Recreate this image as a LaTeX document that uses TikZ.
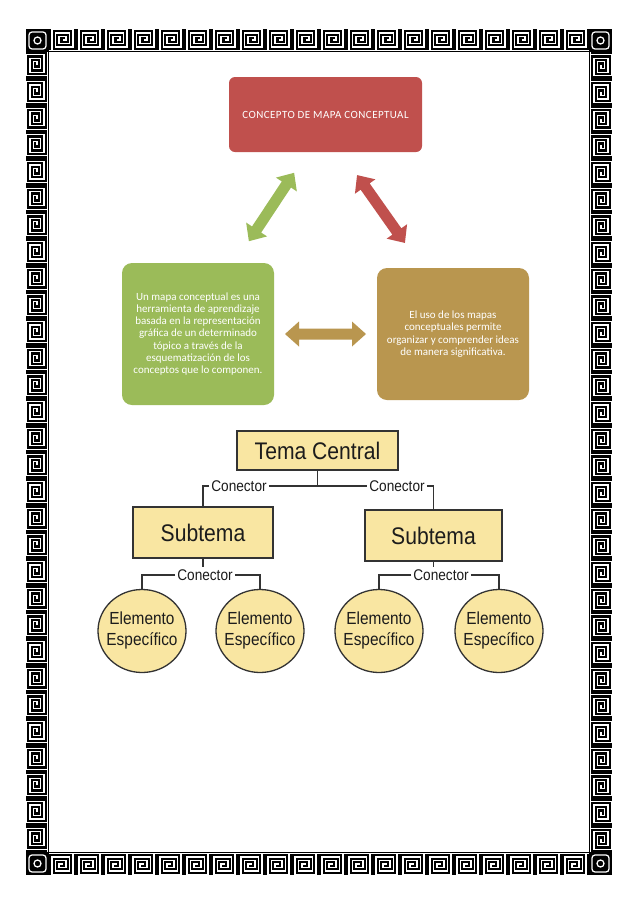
\documentclass[tikz,border=0pt]{standalone}
\usepackage{fontspec}
\setmainfont{Carlito}
\newfontfamily\arialf{Liberation Sans}
\usetikzlibrary{shapes.geometric}
\definecolor{cred}{HTML}{C0504D}
\definecolor{cgreen}{HTML}{9BBB59}
\definecolor{cgold}{HTML}{B9964F}
\definecolor{cyel}{HTML}{F9E6A2}
\definecolor{cline}{HTML}{333333}
\definecolor{ctxt}{HTML}{1C1C1C}
\newcommand\narrowtxt[1]{\scalebox{0.88}[1]{#1}}
\newcommand\elemtxt{\makebox[0pt]{\begin{tabular}{@{}c@{}}\narrowtxt{Elemento}\\\narrowtxt{Específico}\end{tabular}}}
\newcommand\dblarr[5]{%
  \fill[#1, shift={(#2,#3)}, rotate=#4]
    ({-#5/2},0) -- ({-#5/2+14},12.5) -- ({-#5/2+14},5.5) -- ({#5/2-14},5.5) -- ({#5/2-14},12.5)
    -- ({#5/2},0) -- ({#5/2-14},-12.5) -- ({#5/2-14},-5.5) -- ({-#5/2+14},-5.5) -- ({-#5/2+14},-12.5) -- cycle;}
\begin{document}
\begin{tikzpicture}[x=1pt,y=-1pt,
  cbox/.style={text=white, align=center, font=\fontsize{11}{12.3}\selectfont, inner sep=0pt},
  ybox/.style={draw=cline, line width=1.3pt, fill=cyel, text=ctxt, inner sep=0pt},
  elem/.style={ellipse, draw=cline, line width=1.3pt, fill=cyel, text=ctxt, inner sep=0pt,
     minimum width=88pt, minimum height=83pt, font=\arialf\fontsize{17.5}{20.5}\selectfont},
  conn/.style={font=\arialf\fontsize{15.5}{17}\selectfont, text=ctxt, inner sep=2pt},
  link/.style={draw=cline, line width=1.2pt},
  tile/.style={draw=white, line width=1.25pt},
  keytile/.pic={\draw[tile] (-10.5,10.5) -- (-10.5,-10.5) -- (10.5,-10.5) -- (10.5,7) -- (-7,7) -- (-7,-7) -- (7,-7) -- (7,3.5) -- (-3.5,3.5) -- (-3.5,-3.5) -- (3.5,-3.5) -- (3.5,0) -- (0,0);
               \draw[tile] (-13.5,10.5) -- (13.5,10.5);},
  cornertile/.pic={\draw[tile, rounded corners=3pt] (-8.5,-8.5) rectangle (8.5,8.5); \draw[tile] (0,0) circle (3.5);}
]
\useasboundingbox (0,0) rectangle (638,903);
\fill[white] (0,0) rectangle (638,903);
% frame
\fill[black] (26,29) rectangle (612,875);
\fill[white] (49,52) rectangle (589,852);
\foreach \i in {0,...,19} {
  \pic at ({49+27*(\i+0.5)},40) {keytile};
  \pic[rotate=180] at ({49+27*(\i+0.5)},864) {keytile};
}
\foreach \j in {0,...,29} {
  \pic[rotate=90] at (37,{52+26.667*(\j+0.5)}) {keytile};
  \pic[rotate=-90] at (601,{52+26.667*(\j+0.5)}) {keytile};
}
\pic at (37.5,40.5) {cornertile};
\pic at (600.5,40.5) {cornertile};
\pic at (37.5,863.5) {cornertile};
\pic at (600.5,863.5) {cornertile};

% upper concept boxes
\node[cbox, fill=cred, rounded corners=6pt, minimum width=193pt, minimum height=75pt, font=\addfontfeatures{LetterSpace=4}\fontsize{11}{12.3}\selectfont] (top) at (325.5,114.5) {CONCEPTO DE MAPA CONCEPTUAL};
\node[cbox, fill=cgreen, rounded corners=10pt, minimum width=152pt, minimum height=142pt] (left) at (198,334)
  {Un mapa conceptual es una\\herramienta de aprendizaje\\basada en la representación\\gráfica de un determinado\\tópico a través de la\\esquematización de los\\conceptos que lo componen.};
\node[cbox, fill=cgold, rounded corners=10pt, minimum width=152pt, minimum height=132pt] (right) at (453,334)
  {El uso de los mapas\\conceptuales permite\\organizar y comprender ideas\\de manera significativa.};

% double arrows
\dblarr{cgreen}{271.5}{207}{56.5}{82}
\dblarr{cred}{381}{209}{-54.8}{83}
\dblarr{cgold}{325.5}{334}{0}{81}

% lower hierarchy
\node[ybox, minimum width=161pt, minimum height=39pt, font=\arialf\fontsize{24}{26}\selectfont] (tema) at (317.5,450.5) {\narrowtxt{Tema Central}};
\node[ybox, minimum width=140pt, minimum height=51pt, font=\arialf\fontsize{24}{26}\selectfont] (subL) at (203,532.5) {\narrowtxt{Subtema}};
\node[ybox, minimum width=137pt, minimum height=51pt, font=\arialf\fontsize{24}{26}\selectfont] (subR) at (433.5,535.5) {\narrowtxt{Subtema}};
\node[conn] (cl1) at (239,486) {\narrowtxt{Conector}};
\node[conn] (cl2) at (397,486) {\narrowtxt{Conector}};
\node[conn] (cl3) at (205,575) {\narrowtxt{Conector}};
\node[conn] (cl4) at (441,575) {\narrowtxt{Conector}};
\node[elem] (e1) at (142,631) {\elemtxt};
\node[elem] (e2) at (260,631) {\elemtxt};
\node[elem] (e3) at (379,631) {\elemtxt};
\node[elem] (e4) at (499,631) {\elemtxt};

\draw[link] (tema.south) -- (tema.south |- cl1);
\draw[link] (cl1.east) -- (cl2.west);
\draw[link] (cl1.west) -| (subL.north);
\draw[link] (cl2.east) -| (subR.north);
\draw[link] (subL.south) -- (subL.south |- cl3.north);
\draw[link] (cl3.west) -| (e1.north);
\draw[link] (cl3.east) -| (e2.north);
\draw[link] (subR.south) -- (subR.south |- cl4.north);
\draw[link] (cl4.west) -| (e3.north);
\draw[link] (cl4.east) -| (e4.north);
\end{tikzpicture}
\end{document}
